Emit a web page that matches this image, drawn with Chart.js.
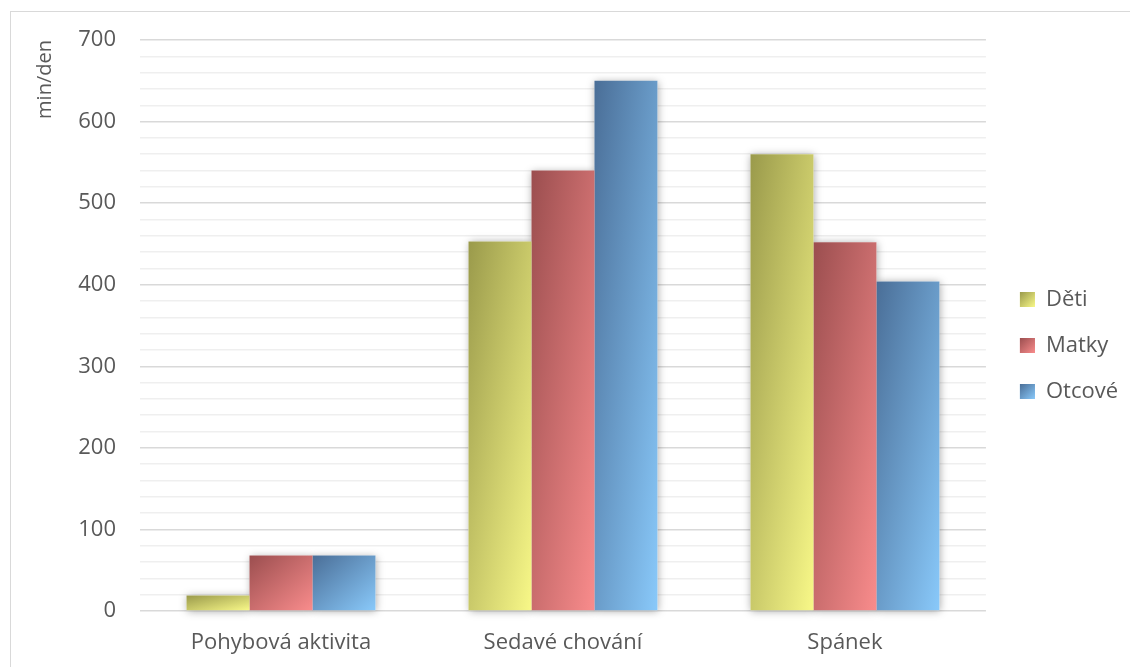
<!DOCTYPE html>
<html><head><meta charset="utf-8">
<script src="https://cdn.jsdelivr.net/npm/chart.js@4"></script>
<style>html,body{margin:0;padding:0;background:#fff;}#wrap{position:relative;width:1130px;height:667px;}canvas{display:block;}</style>
</head><body><div id="wrap"><canvas id="c" width="1130" height="667"></canvas></div>
<script>
const categories = ['Pohybová aktivita', 'Sedavé chování', 'Spánek'];
const seriesNames = ['Děti', 'Matky', 'Otcové'];
const detiValues = [19, 453, 560];
const matkyValues = [68, 540, 452];
const otcoveValues = [68, 650, 404];
const yTickLabels = ['0', '100', '200', '300', '400', '500', '600', '700'];
const yAxisTitle = 'min/den';

const FONT = '"Open Sans", Lato, sans-serif';
const FSIZE = 22;
const TEXT = '#595959';
const STOPS = [
  ['#9a9a4b', '#f8f888'],
  ['#9b4e4f', '#f98c8c'],
  ['#4a6e97', '#89c9fa']
];

function diagGrad(ctx, left, top, w, h, stops) {
  w = Math.max(w, 1); h = Math.max(h, 1);
  const k = 2 / (1 / (w * w) + 1 / (h * h));
  const g = ctx.createLinearGradient(left, top, left + k / w, top + k / h);
  g.addColorStop(0, stops[0]);
  g.addColorStop(1, stops[1]);
  return g;
}
function barGeom(el) {
  const p = el.getProps(['x', 'y', 'base', 'width'], true);
  const top = Math.min(p.y, p.base);
  return {left: p.x - p.width / 2, top, w: p.width, h: Math.abs(p.base - p.y)};
}
function barColor(c) {
  const el = c.element;
  const stops = STOPS[c.datasetIndex];
  if (!el || el.width === undefined || el.x === undefined) return stops[1];
  const g = barGeom(el);
  return diagGrad(c.chart.ctx, g.left, g.top, g.w, g.h, stops);
}

const LEGEND_SHIFT = -8;
const frame = {
  id: 'frame',
  afterLayout(chart) {
    const lg = chart.legend;
    if (!lg) return;
    lg.top += LEGEND_SHIFT;
    lg.bottom += LEGEND_SHIFT;
    (lg.legendHitBoxes || []).forEach(h => { h.top += LEGEND_SHIFT; });
  },
  beforeDraw(chart) {
    const ctx = chart.ctx;
    ctx.save();
    ctx.strokeStyle = '#d9d9d9';
    ctx.lineWidth = 1;
    ctx.strokeRect(10.5, 11.5, 1200, 800);
    ctx.restore();
  },
  beforeDatasetsDraw(chart) {
    const ctx = chart.ctx;
    ctx.save();
    ctx.shadowColor = 'rgba(0,0,0,0.35)';
    ctx.shadowBlur = 8;
    ctx.shadowOffsetX = 1;
    ctx.shadowOffsetY = 1;
    ctx.fillStyle = '#ffffff';
    chart.data.datasets.forEach((ds, di) => {
      chart.getDatasetMeta(di).data.forEach(el => {
        const g = barGeom(el);
        ctx.fillRect(g.left, g.top, g.w, g.h);
      });
    });
    ctx.restore();
  },
  afterDraw(chart) {
    const lg = chart.legend;
    if (!lg || !lg.legendHitBoxes) return;
    const ctx = chart.ctx;
    ctx.save();
    lg.legendHitBoxes.forEach((hb, i) => {
      const s = 15;
      const top = hb.top + (hb.height - s) / 2;
      ctx.fillStyle = diagGrad(ctx, hb.left, top, s, s, STOPS[i]);
      ctx.fillRect(hb.left, top, s, s);
    });
    ctx.restore();
  }
};

const chart = new Chart(document.getElementById('c'), {
  type: 'bar',
  data: {
    labels: categories,
    datasets: [
      {label: seriesNames[0], data: detiValues, backgroundColor: barColor},
      {label: seriesNames[1], data: matkyValues, backgroundColor: barColor},
      {label: seriesNames[2], data: otcoveValues, backgroundColor: barColor}
    ]
  },
  options: {
    responsive: false,
    animation: false,
    events: [],
    layout: {padding: {top: 40, bottom: 0, left: 0, right: 2}},
    datasets: {
      bar: {barPercentage: 1, categoryPercentage: 0.67, borderWidth: 0}
    },
    scales: {
      x: {
        grid: {display: false, drawTicks: false},
        border: {display: false},
        ticks: {color: TEXT, font: {family: FONT, size: FSIZE}, padding: 19, maxRotation: 0},
        afterFit: s => { s.height = 56; }
      },
      y: {
        min: 0, max: 700,
        ticks: {
          stepSize: 20,
          autoSkip: false,
          padding: 24,
          color: TEXT,
          font: {family: FONT, size: FSIZE},
          callback: v => (v % 100 === 0 ? yTickLabels[v / 100] : '')
        },
        grid: {
          drawTicks: false,
          lineWidth: 1.5,
          color: c => (c.tick && c.tick.value % 100 === 0 ? '#d9d9d9' : '#efefef')
        },
        border: {display: false},
        title: {
          display: true, text: yAxisTitle, align: 'end', color: TEXT,
          font: {family: FONT, size: 20}, padding: {top: 33, bottom: 0}
        },
        afterFit: s => { s.width = 140; }
      },
      yRight: {
        position: 'right',
        display: true,
        grid: {display: false, drawTicks: false},
        border: {display: false},
        ticks: {display: false},
        afterFit: s => { s.width = 10; }
      }
    },
    plugins: {
      legend: {
        position: 'right',
        align: 'center',
        labels: {
          boxWidth: 15, boxHeight: 15, padding: 24,
          color: TEXT, font: {family: FONT, size: FSIZE},
          generateLabels: ch => ch.data.datasets.map((ds, i) => ({
            text: ds.label, fillStyle: STOPS[i][1], strokeStyle: 'rgba(0,0,0,0)', lineWidth: 0,
            fontColor: TEXT, datasetIndex: i, hidden: false
          }))
        }
      },
      tooltip: {enabled: false}
    }
  },
  plugins: [frame]
});
chart.update();
</script></body></html>
